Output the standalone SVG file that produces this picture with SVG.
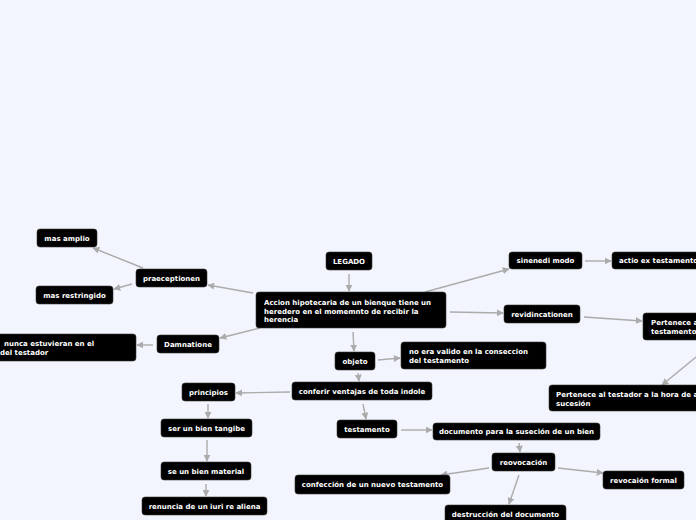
<svg xmlns="http://www.w3.org/2000/svg" width="696" height="520" viewBox="0 0 696 520">
<style>
.b{fill:#000;stroke:#3a3a3a;stroke-width:0.6}
.t{font-family:"DejaVu Sans",Verdana,sans-serif;font-weight:bold;font-size:7px;fill:#fff}
.c{text-anchor:middle}
.l{fill:none;stroke:#ababab;stroke-width:1.4;marker-end:url(#a)}
</style>
<defs>
<marker id="a" viewBox="0 0 10 10" refX="9" refY="5" markerWidth="7" markerHeight="7" markerUnits="userSpaceOnUse" orient="auto">
<path d="M0,0 L10,5 L0,10 Z" fill="#ababab"/>
</marker>
</defs>
<rect width="696" height="520" fill="#f3f5fe"/>
<g id="connectors">
<line class="l" x1="143" y1="268" x2="93" y2="248"/>
<line class="l" x1="132" y1="284" x2="114" y2="289"/>
<line class="l" x1="253" y1="293" x2="208" y2="285"/>
<line class="l" x1="260" y1="328" x2="220" y2="338"/>
<line class="l" x1="153" y1="345" x2="137" y2="345"/>
<line class="l" x1="349" y1="274" x2="349" y2="291"/>
<line class="l" x1="353" y1="332" x2="354" y2="351"/>
<line class="l" x1="378" y1="360" x2="400" y2="358"/>
<line class="l" x1="425" y1="292" x2="509" y2="269"/>
<line class="l" x1="450" y1="312" x2="503" y2="313"/>
<line class="l" x1="585" y1="261" x2="611" y2="261"/>
<line class="l" x1="584" y1="317" x2="642" y2="321"/>
<line class="l" x1="696" y1="357" x2="662" y2="385"/>
<line class="l" x1="358" y1="373" x2="359" y2="381"/>
<line class="l" x1="290" y1="392" x2="236" y2="393"/>
<line class="l" x1="208" y1="404" x2="208" y2="418"/>
<line class="l" x1="207" y1="440" x2="207" y2="461"/>
<line class="l" x1="206" y1="484" x2="206" y2="496"/>
<line class="l" x1="363" y1="404" x2="366" y2="419"/>
<line class="l" x1="401" y1="430" x2="432" y2="430"/>
<line class="l" x1="519" y1="443" x2="520" y2="452"/>
<line class="l" x1="489" y1="468" x2="441" y2="475"/>
<line class="l" x1="558" y1="468" x2="603" y2="473"/>
<line class="l" x1="519" y1="475" x2="509" y2="504"/>
</g>
<g id="legado"><rect class="b" x="326" y="252" width="46" height="18" rx="3"/><text class="t c" x="349" y="263.5">LEGADO</text></g>
<g id="main"><rect class="b" x="256" y="292" width="190" height="36" rx="3"/><text class="t" x="264" y="305">Accion hipotecaria de un bienque tiene un</text><text class="t" x="264" y="313.5">heredero en el momemnto de recibir la</text><text class="t" x="264" y="322">herencia</text></g>
<g id="praeceptionen"><rect class="b" x="136" y="269" width="71" height="18" rx="3"/><text class="t c" x="171.5" y="280.5">praeceptionen</text></g>
<g id="masamplio"><rect class="b" x="37" y="229" width="60" height="18" rx="3"/><text class="t c" x="67" y="240.5">mas amplio</text></g>
<g id="masrestringido"><rect class="b" x="36" y="286" width="77" height="18" rx="3"/><text class="t c" x="74.5" y="297.5">mas restringido</text></g>
<g id="damnatione"><rect class="b" x="157" y="335" width="62" height="18" rx="3"/><text class="t c" x="188" y="346.5">Damnatione</text></g>
<g id="nunca"><rect class="b" x="-10" y="334" width="146" height="27" rx="3"/><text class="t" x="4" y="346">nunca estuvieran en el</text><text class="t" x="0" y="355">del testador</text></g>
<g id="objeto"><rect class="b" x="335" y="352" width="40" height="18" rx="3"/><text class="t c" x="355" y="363.5">objeto</text></g>
<g id="noera"><rect class="b" x="401" y="342" width="145" height="27" rx="3"/><text class="t" x="409" y="354">no era valido en la conseccion</text><text class="t" x="409" y="362.5">del testamento</text></g>
<g id="sinenedi"><rect class="b" x="509" y="252" width="73" height="17" rx="3"/><text class="t c" x="545.5" y="263">sinenedi modo</text></g>
<g id="actio"><rect class="b" x="612" y="252" width="94" height="17" rx="3"/><text class="t" x="619" y="263">actio ex testamento</text></g>
<g id="revidincationen"><rect class="b" x="504" y="305" width="76" height="18" rx="3"/><text class="t c" x="542" y="316.5">revidincationen</text></g>
<g id="pertenecea"><rect class="b" x="643" y="313" width="60" height="27" rx="3"/><text class="t" x="651" y="325">Pertenece a</text><text class="t" x="651" y="333.5">testamento</text></g>
<g id="perteneceal"><rect class="b" x="549" y="385" width="155" height="26" rx="3"/><text class="t" x="556" y="396.5">Pertenece al testador a la hora de a</text><text class="t" x="556" y="405.5">sucesión</text></g>
<g id="conferir"><rect class="b" x="292" y="382" width="140" height="18" rx="3"/><text class="t c" x="362" y="393.5">conferir ventajas de toda indole</text></g>
<g id="principios"><rect class="b" x="182" y="383" width="53" height="18" rx="3"/><text class="t c" x="208.5" y="394.5">principios</text></g>
<g id="tangibe"><rect class="b" x="161" y="419" width="91" height="18" rx="3"/><text class="t c" x="206.5" y="430.5">ser un bien tangibe</text></g>
<g id="material"><rect class="b" x="161" y="462" width="90" height="18" rx="3"/><text class="t c" x="206" y="473.5">se un bien material</text></g>
<g id="renuncia"><rect class="b" x="142" y="497" width="125" height="18" rx="3"/><text class="t c" x="204.5" y="508.5">renuncia de un iuri re aliena</text></g>
<g id="testamento"><rect class="b" x="337" y="420" width="60" height="18" rx="3"/><text class="t c" x="367" y="431.5">testamento</text></g>
<g id="documento"><rect class="b" x="433" y="423" width="167" height="17" rx="3"/><text class="t c" x="516.5" y="434">documento para la suseción de un bien</text></g>
<g id="reovocacion"><rect class="b" x="492" y="453" width="63" height="18" rx="3"/><text class="t c" x="523.5" y="464.5">reovocación</text></g>
<g id="confeccion"><rect class="b" x="295" y="475" width="155" height="19" rx="3"/><text class="t c" x="372.5" y="487">confección de un nuevo testamento</text></g>
<g id="formal"><rect class="b" x="603" y="471" width="81" height="18" rx="3"/><text class="t c" x="643.5" y="482.5">revocaión formal</text></g>
<g id="destruccion"><rect class="b" x="445" y="505" width="121" height="20" rx="3"/><text class="t c" x="505.5" y="517">destrucción del documento</text></g>
</svg>
